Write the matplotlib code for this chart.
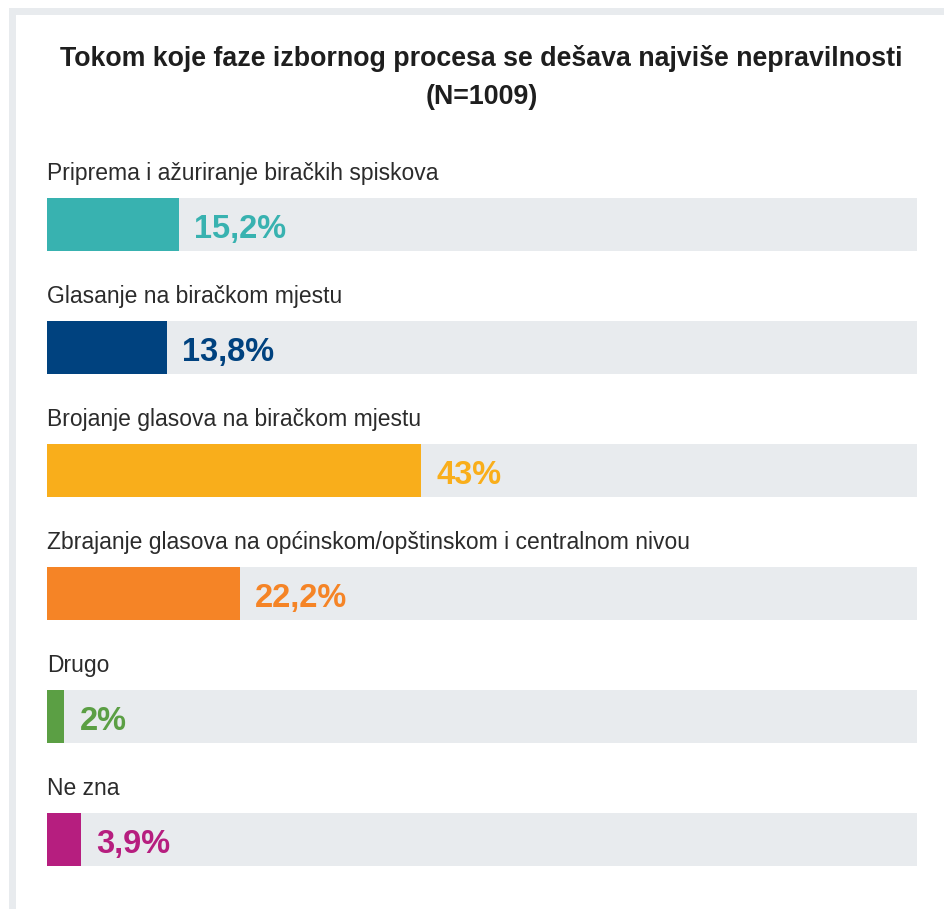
import matplotlib
matplotlib.use("Agg")
import matplotlib.pyplot as plt
from matplotlib.patches import Rectangle

title_lines = ["Tokom koje faze izbornog procesa se dešava najviše nepravilnosti", "(N=1009)"]
categories = [
    "Priprema i ažuriranje biračkih spiskova",
    "Glasanje na biračkom mjestu",
    "Brojanje glasova na biračkom mjestu",
    "Zbrajanje glasova na općinskom/opštinskom i centralnom nivou",
    "Drugo",
    "Ne zna",
]
values = [15.2, 13.8, 43, 22.2, 2, 3.9]
value_labels = ["15,2%", "13,8%", "43%", "22,2%", "2%", "3,9%"]
colors = ["#38b2b0", "#00427f", "#f9ae1b", "#f58426", "#5b9f44", "#b61e7f"]
track_color = "#e8ebee"

W, H = 944, 909
fig = plt.figure(figsize=(W / 100, H / 100), dpi=100)
fig.patch.set_facecolor("white")

# frame strips
fig.patches.append(Rectangle((9 / W, 1 - 15 / H), 1 - 9 / W, 7 / H, transform=fig.transFigure,
                             facecolor=track_color, edgecolor="none", zorder=0))
fig.patches.append(Rectangle((9 / W, 0), 7 / W, 1 - 8 / H, transform=fig.transFigure,
                             facecolor=track_color, edgecolor="none", zorder=0))

font = ["Liberation Sans", "DejaVu Sans"]

# title
fig.text(481.5 / W, 1 - 66 / H, title_lines[0], ha="center", va="baseline",
         fontsize=19.3, fontweight="bold", color="#1e1e1e", family=font)
fig.text(481.5 / W, 1 - 104.5 / H, title_lines[1], ha="center", va="baseline",
         fontsize=19.3, fontweight="bold", color="#1e1e1e", family=font)

# axes: pixel rows 150..890, bar centers at 224.5 + 123*i
top_px, bot_px = 150, 890
step = 123.0
c0 = 224.5
ax = fig.add_axes([47 / W, 1 - bot_px / H, (917 - 47) / W, (bot_px - top_px) / H])
ax.set_xlim(0, 100)
ax.set_ylim((bot_px - c0) / step, (top_px - c0) / step)
ax.axis("off")

pos = list(range(len(categories)))
bh = 53 / step
ax.barh(pos, [100] * len(pos), height=bh, color=track_color, edgecolor="none")
ax.barh(pos, values, height=bh, color=colors, edgecolor="none")

for i, (cat, v, lab, c) in enumerate(zip(categories, values, value_labels, colors)):
    ax.text(0, i - 44.5 / step, cat, ha="left", va="baseline", fontsize=16.5,
            color="#2b2b2b", family=font)
    ax.text(v + 15 / 8.7, i + 13.5 / step, lab, ha="left", va="baseline", fontsize=23.5,
            fontweight="bold", color=c, family=font)

fig.savefig("out.png", dpi=100, facecolor="white")
